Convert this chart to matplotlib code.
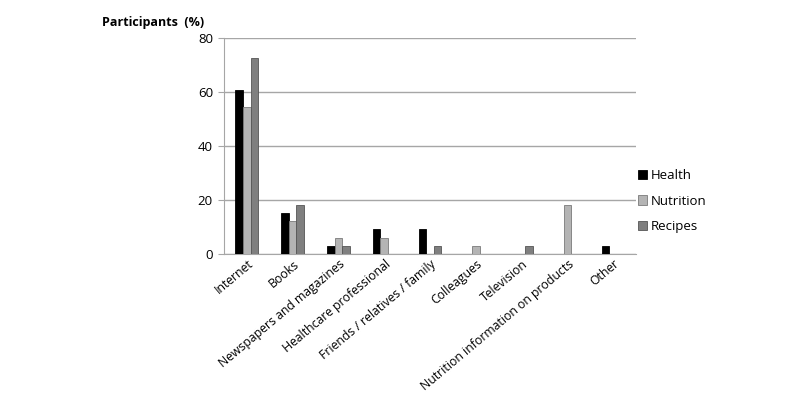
import numpy as np
import matplotlib.pyplot as plt

categories = ['Internet', 'Books', 'Newspapers and magazines', 'Healthcare professional',
              'Friends / relatives / family', 'Colleagues', 'Television',
              'Nutrition information on products', 'Other']
health = [60.6, 15.2, 3.0, 9.1, 9.1, 0, 0, 0, 3.0]
nutrition = [54.5, 12.1, 6.1, 6.1, 0, 3.0, 0, 18.2, 0]
recipes = [72.7, 18.2, 3.0, 0, 3.0, 0, 3.0, 0, 0]

plt.rcParams['font.family'] = ['Open Sans', 'DejaVu Sans']

fig = plt.figure(figsize=(8, 4.01), dpi=100)
ax = fig.add_axes([0.28, 0.3666, 0.515, 0.539])

x = np.arange(len(categories))
w = 0.166
series = [(health, 'Health', '#000000', '#000000'),
          (nutrition, 'Nutrition', '#b4b4b4', '#7a7a7a'),
          (recipes, 'Recipes', '#7f7f7f', '#555555')]
for i, (vals, name, col, ec) in enumerate(series):
    ax.bar(x + (i - 1) * w, vals, w, color=col, edgecolor=ec, linewidth=0.6, label=name, zorder=3)

ax.set_xlim(-0.5, len(categories) - 0.5)
ax.set_ylim(0, 80)
ax.set_yticks([0, 20, 40, 60, 80])
ax.yaxis.grid(True, color='#a6a6a6', linewidth=1, zorder=0)
ax.set_xticks(x + 0.1)
ax.set_xticklabels(categories, rotation=40, ha='right', va='center', rotation_mode='anchor', fontsize=8.8)
ax.tick_params(axis='x', length=0, pad=6)
ax.tick_params(axis='y', length=4, color='#a6a6a6', labelsize=9.5, pad=4)
for s in ['top', 'right']:
    ax.spines[s].set_visible(False)
for s in ['left', 'bottom']:
    ax.spines[s].set_color('#a6a6a6')

fig.text(0.128, 0.945, 'Participants  (%)', fontsize=9, fontweight='bold', va='center')

ax.legend(loc='center left', bbox_to_anchor=(0.975, 0.245), frameon=False, fontsize=9.5,
          handlelength=0.7, handleheight=0.7, handletextpad=0.3, labelspacing=0.95)

fig.savefig('out.png', dpi=100)
